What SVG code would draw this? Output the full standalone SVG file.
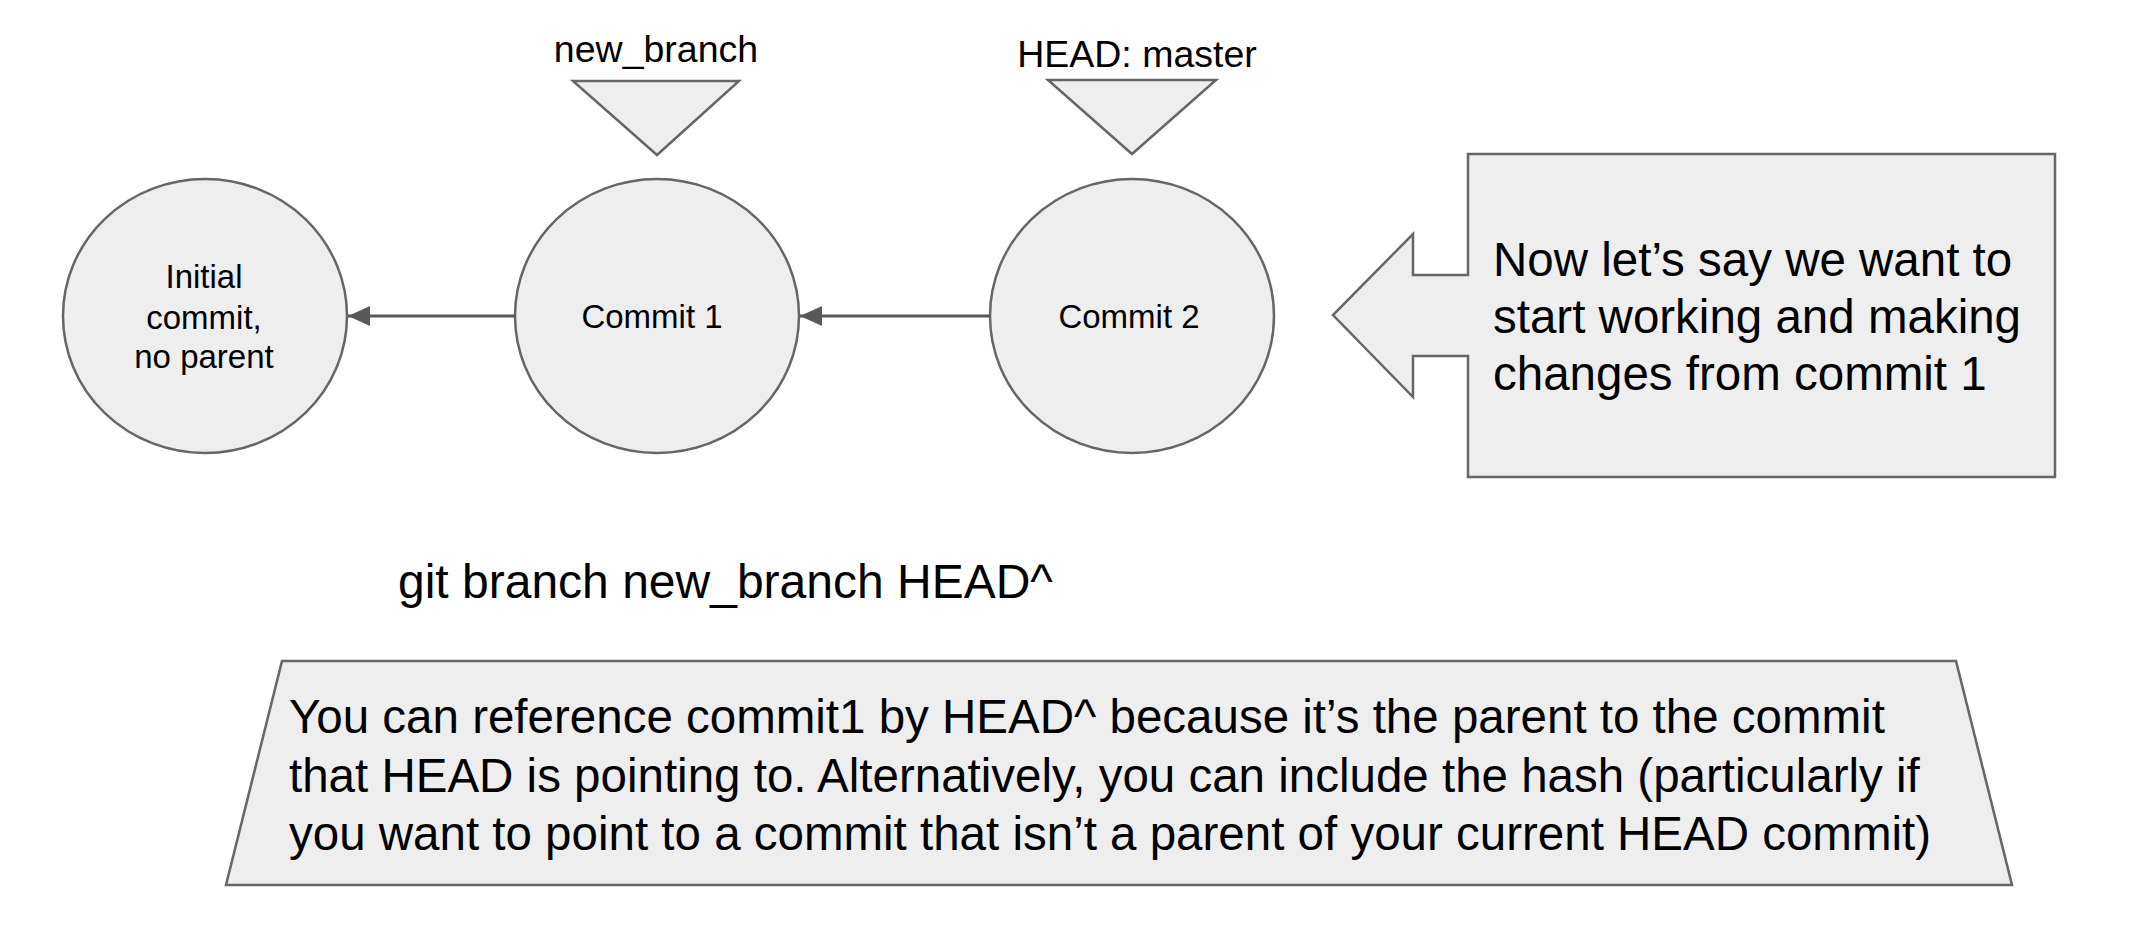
<svg xmlns="http://www.w3.org/2000/svg" width="2146" height="934" viewBox="0 0 2146 934">
  <style>
    .shape { fill: #eeeeee; stroke: #666666; stroke-width: 2.5; stroke-linejoin: miter; }
    .t { font-family: "Liberation Sans", Arial, sans-serif; fill: #000000; }
    .node { font-size: 33px; text-anchor: middle; }
    .lbl { font-size: 37.5px; text-anchor: middle; }
    .big { font-size: 47.5px; }
    .cmd { font-size: 48px; }
    .conn { stroke: #595959; stroke-width: 3; fill: none; }
  </style>
  <defs>
    <marker id="arrow" markerUnits="userSpaceOnUse" markerWidth="22" markerHeight="20" viewBox="0 0 22 20" refX="22" refY="10" orient="auto">
      <path d="M0,0 L22,10 L0,20 Z" fill="#595959"/>
    </marker>
  </defs>
  <rect width="2146" height="934" fill="#ffffff"/>

  <g id="label-new-branch">
    <text class="t lbl" x="656" y="62">new_branch</text>
    <polygon class="shape" points="573,81 739,81 657,155"/>
  </g>

  <g id="label-head-master">
    <text class="t lbl" x="1137" y="67">HEAD: master</text>
    <polygon class="shape" points="1048,80 1216,80 1132,154"/>
  </g>

  <g id="node-initial">
    <ellipse class="shape" cx="205" cy="316" rx="142" ry="137"/>
    <text class="t node" x="204" y="288">Initial</text>
    <text class="t node" x="204" y="329">commit,</text>
    <text class="t node" x="204" y="368">no parent</text>
  </g>

  <g id="node-commit1">
    <ellipse class="shape" cx="657" cy="316" rx="142" ry="137"/>
    <text class="t node" x="652" y="328">Commit 1</text>
  </g>

  <g id="node-commit2">
    <ellipse class="shape" cx="1132" cy="316" rx="142" ry="137"/>
    <text class="t node" x="1129" y="328">Commit 2</text>
  </g>

  <g id="connectors">
    <line class="conn" x1="515" y1="316" x2="348" y2="316" marker-end="url(#arrow)"/>
    <line class="conn" x1="990" y1="316" x2="800" y2="316" marker-end="url(#arrow)"/>
  </g>

  <g id="callout">
    <polygon class="shape" points="1468,154 2055,154 2055,477 1468,477 1468,356 1413,356 1413,397 1333,315 1413,234 1413,275 1468,275"/>
    <text class="t big" x="1493" y="276">Now let’s say we want to</text>
    <text class="t big" x="1493" y="333">start working and making</text>
    <text class="t big" x="1493" y="390">changes from commit 1</text>
  </g>

  <g id="command">
    <text class="t cmd" x="398" y="598">git branch new_branch HEAD^</text>
  </g>

  <g id="note">
    <polygon class="shape" points="282,661 1956,661 2012,885 226,885"/>
    <text class="t big" x="289" y="733">You can reference commit1 by HEAD^ because it’s the parent to the commit</text>
    <text class="t big" x="289" y="792">that HEAD is pointing to. Alternatively, you can include the hash (particularly if</text>
    <text class="t big" x="289" y="850">you want to point to a commit that isn’t a parent of your current HEAD commit)</text>
  </g>
</svg>
